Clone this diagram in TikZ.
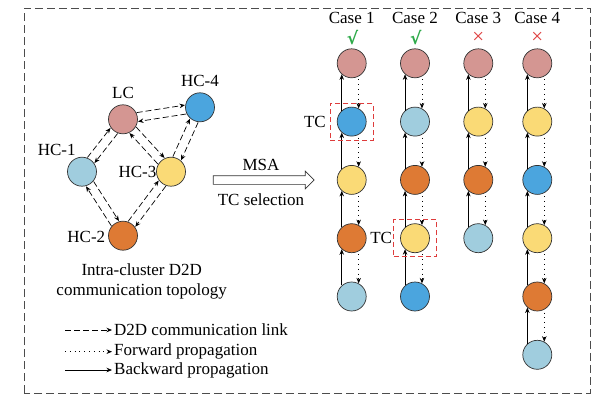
\documentclass[tikz,border=0pt]{standalone}
\usepackage{fontspec}
\setmainfont{Liberation Serif}
\newfontfamily\symfont{DejaVu Sans}
\usetikzlibrary{
        arrows.meta,
        calc,
        fit,
        positioning,
        shapes.arrows
    }
\definecolor{lccol}{RGB}{212,150,146}
\definecolor{hcacol}{RGB}{160,205,222}
\definecolor{hcbcol}{RGB}{222,122,52}
\definecolor{hcccol}{RGB}{250,218,118}
\definecolor{hcdcol}{RGB}{75,165,222}
\definecolor{okcol}{RGB}{46,170,74}
\definecolor{nocol}{RGB}{222,60,60}
\tikzset{>={Stealth[length=5.5pt,width=4.5pt]}}
\tikzset{dev/.style={circle,draw=black!80,line width=0.7pt,minimum size=29pt,inner sep=0pt}}
\tikzset{link/.style={->,line width=0.7pt,dash pattern=on 6pt off 3pt}}
\tikzset{back/.style={->,line width=0.7pt}}
\tikzset{fwd/.style={->,line width=0.7pt,dash pattern=on 0.8pt off 4pt,shorten <=3pt}}
\tikzset{tcbox/.style={draw=nocol,line width=0.8pt,dash pattern=on 5pt off 3pt,inner xsep=6.5pt,inner ysep=3.5pt}}
\tikzset{outer/.style={draw=black!70,line width=0.9pt,dash pattern=on 8pt off 4pt}}
\tikzset{okm/.style={text=okcol,font=\fontsize{17}{20}\symfont\bfseries}}
\tikzset{nom/.style={text=nocol,font=\fontsize{21}{24}\selectfont}}

\begin{document}
\begin{tikzpicture}[x=1pt,y=1pt,node distance=58.3pt,font=\fontsize{17}{20}\selectfont]
    \useasboundingbox (0,0) rectangle (606,408);
    \draw[outer] (24,15) rectangle (590,400);

    % intra-cluster topology
    \node[dev,fill=lccol] (lc) at (123,288.7) {};
    \node[dev,fill=hcdcol] (h4) at (200,300.7) {};
    \node[dev,fill=hcacol] (h1) at (82,236.3) {};
    \node[dev,fill=hcccol] (h3) at (171,236.3) {};
    \node[dev,fill=hcbcol] (h2) at (123,172.3) {};
    \node (lct) at (123,314.7) {LC};
    \node (h4t) at (200,327.3) {HC-4};
    \node (h1t) at (56.7,258) {HC-1};
    \node (h3t) at (137.5,236.3) {HC-3};
    \node (h2t) at (86.3,171.3) {HC-2};
    \foreach \a/\b in {lc/h4,h4/lc,lc/h1,h1/lc,lc/h3,h3/lc,h4/h3,h3/h4,h1/h2,h2/h1,h3/h2,h2/h3}
        \draw[link,shorten <=14.5pt,shorten >=14.5pt] ($(\a)!4.5pt!90:(\b)$) -- ($(\b)!4.5pt!-90:(\a)$);
    \node[align=center] (topo) at (141.7,126.3) {Intra-cluster D2D\\communication topology};

    % MSA step
    \node[single arrow,draw=black!80,line width=0.7pt,minimum height=101pt,minimum width=17pt,
          inner sep=4pt,single arrow head extend=4.5pt] (msa) at (261.5,228) {};
    \node (msat) at (261,243) {MSA};
    \node (tcst) at (261,208) {TC selection};

    % cases
    \node (k1) at (351.7,389.7) {Case 1};
    \node (k2) at (415,389.7) {Case 2};
    \node (k3) at (478.3,389.7) {Case 3};
    \node (k4) at (537.3,389.7) {Case 4};
    \node[okm] (m1) at (352.5,370) {√};
    \node[okm] (m2) at (415.8,370) {√};
    \node[nom] (m3) at (478.3,369.7) {×};
    \node[nom] (m4) at (537.3,369.7) {×};

    \node[dev,fill=lccol] (a1) at (351.7,344.7) {};
    \node[dev,fill=hcdcol] (a2) [below of=a1] {};
    \node[dev,fill=hcccol] (a3) [below of=a2] {};
    \node[dev,fill=hcbcol] (a4) [below of=a3] {};
    \node[dev,fill=hcacol] (a5) [below of=a4] {};

    \node[dev,fill=lccol] (b1) at (415,344.7) {};
    \node[dev,fill=hcacol] (b2) [below of=b1] {};
    \node[dev,fill=hcbcol] (b3) [below of=b2] {};
    \node[dev,fill=hcccol] (b4) [below of=b3] {};
    \node[dev,fill=hcdcol] (b5) [below of=b4] {};

    \node[dev,fill=lccol] (c1) at (478.3,344.7) {};
    \node[dev,fill=hcccol] (c2) [below of=c1] {};
    \node[dev,fill=hcbcol] (c3) [below of=c2] {};
    \node[dev,fill=hcacol] (c4) [below of=c3] {};

    \node[dev,fill=lccol] (d1) at (537.3,344.7) {};
    \node[dev,fill=hcccol] (d2) [below of=d1] {};
    \node[dev,fill=hcdcol] (d3) [below of=d2] {};
    \node[dev,fill=hcccol] (d4) [below of=d3] {};
    \node[dev,fill=hcbcol] (d5) [below of=d4] {};
    \node[dev,fill=hcacol] (d6) [below of=d5] {};

    \path
        (a2.132) edge[back] (a1.228)  (a1.298) edge[fwd] (a2.62)
        (a3.132) edge[back] (a2.228)  (a2.298) edge[fwd] (a3.62)
        (a4.132) edge[back] (a3.228)  (a3.298) edge[fwd] (a4.62)
        (a5.132) edge[back] (a4.228)  (a4.298) edge[fwd] (a5.62)
        (b2.132) edge[back] (b1.228)  (b1.298) edge[fwd] (b2.62)
        (b3.132) edge[back] (b2.228)  (b2.298) edge[fwd] (b3.62)
        (b4.132) edge[back] (b3.228)  (b3.298) edge[fwd] (b4.62)
        (b5.132) edge[back] (b4.228)  (b4.298) edge[fwd] (b5.62)
        (c2.132) edge[back] (c1.228)  (c1.298) edge[fwd] (c2.62)
        (c3.132) edge[back] (c2.228)  (c2.298) edge[fwd] (c3.62)
        (c4.132) edge[back] (c3.228)  (c3.298) edge[fwd] (c4.62)
        (d2.132) edge[back] (d1.228)  (d1.298) edge[fwd] (d2.62)
        (d3.132) edge[back] (d2.228)  (d2.298) edge[fwd] (d3.62)
        (d4.132) edge[back] (d3.228)  (d3.298) edge[fwd] (d4.62)
        (d5.132) edge[back] (d4.228)  (d4.298) edge[fwd] (d5.62)
        (d6.132) edge[back] (d5.228)  (d5.298) edge[fwd] (d6.62)
    ;

    % selected TC
    \node[tcbox,fit=(a2)] (tca) {};
    \node[tcbox,fit=(b4)] (tcb) {};
    \node[inner sep=1pt] (tcat) [left=3pt of tca] {TC};
    \node[inner sep=1pt] (tcbt) [left=0pt of tcb] {TC};

    % legend
    \coordinate (l1s) at (65,78);
    \coordinate (l1e) at (112,78);
    \coordinate (l2s) at (65,56.3);
    \coordinate (l2e) at (112,56.3);
    \coordinate (l3s) at (65,38);
    \coordinate (l3e) at (112,38);
    \draw[link] (l1s) -- (l1e);
    \draw[fwd,shorten <=0pt] (l2s) -- (l2e);
    \draw[back] (l3s) -- (l3e);
    \node[right,inner sep=2pt] (l1t) at (l1e) {D2D communication link};
    \node[right,inner sep=2pt] (l2t) at (l2e) {Forward propagation};
    \node[right,inner sep=2pt] (l3t) at (l3e) {Backward propagation};
\end{tikzpicture}
\end{document}
